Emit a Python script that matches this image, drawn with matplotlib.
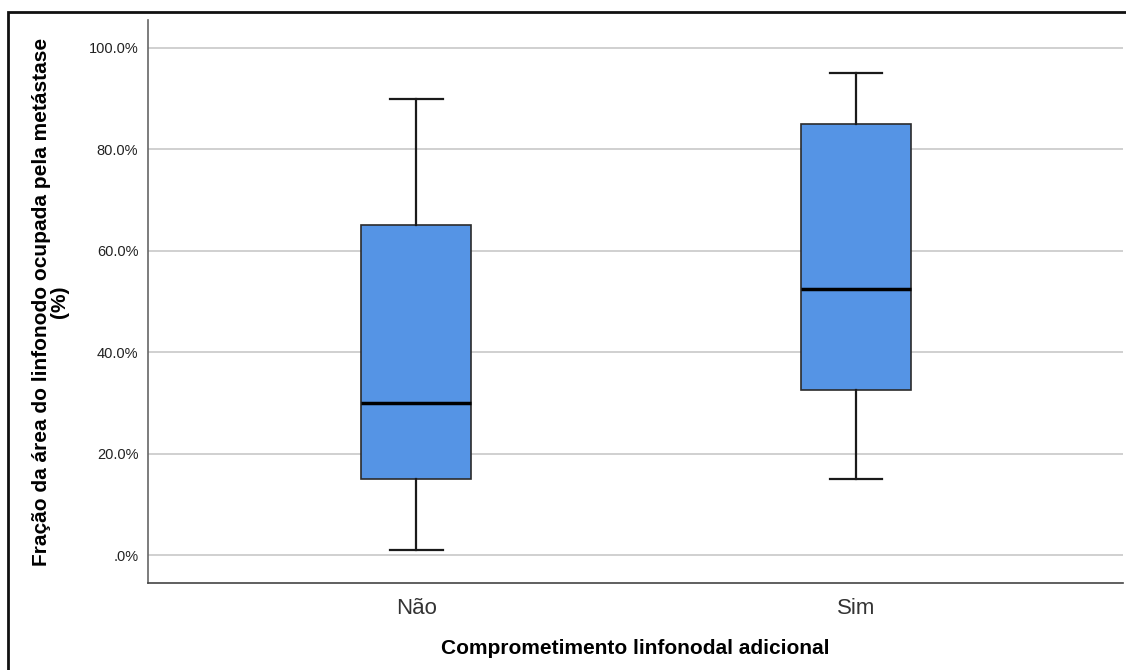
import matplotlib
matplotlib.use('Agg')
import matplotlib.pyplot as plt
from matplotlib.patches import Rectangle

plt.rcParams['font.family'] = ['Liberation Sans', 'DejaVu Sans']

groups = ['Não', 'Sim']
whisker_low = [1.0, 15.0]
q1 = [15.0, 32.5]
median = [30.0, 52.5]
q3 = [65.0, 85.0]
whisker_high = [90.0, 95.0]
yticks = [0, 20, 40, 60, 80, 100]
ytick_labels = ['.0%', '20.0%', '40.0%', '60.0%', '80.0%', '100.0%']

stats = []
for i, name in enumerate(groups):
    stats.append(dict(label=name, whislo=whisker_low[i], q1=q1[i], med=median[i],
                      q3=q3[i], whishi=whisker_high[i], fliers=[]))

fig = plt.figure(figsize=(11.26, 6.70), dpi=100)
ax = fig.add_axes([148 / 1126, 1 - 583 / 670, 975 / 1126, 563 / 670])

ax.bxp(stats, positions=[1, 2], widths=0.25, patch_artist=True, showfliers=False,
       boxprops=dict(facecolor='#5594e5', edgecolor='#2b2b2b', linewidth=1.2),
       medianprops=dict(color='black', linewidth=2.5),
       whiskerprops=dict(color='#1a1a1a', linewidth=1.6),
       capprops=dict(color='#1a1a1a', linewidth=1.6),
       capwidths=0.12, zorder=3)

ax.set_xlim(0.39, 2.607)
ax.set_ylim(-5.5, 105.5)
ax.set_yticks(yticks)
ax.set_yticklabels(ytick_labels, fontsize=10.5, color='#222222')
ax.tick_params(axis='y', length=0, pad=7)
ax.tick_params(axis='x', length=0, pad=11, labelsize=16, labelcolor='#333333')
ax.yaxis.grid(True, color='#c8c8c8', linewidth=1.2, zorder=0)
ax.set_axisbelow(True)

for side in ['top', 'right']:
    ax.spines[side].set_visible(False)
ax.spines['left'].set_color('#666666')
ax.spines['bottom'].set_color('#444444')
ax.spines['left'].set_linewidth(1.2)
ax.spines['bottom'].set_linewidth(1.2)

ax.set_xlabel('Comprometimento linfonodal adicional', fontsize=15, fontweight='bold', labelpad=14)
fig.text(0.045, 1 - 302 / 670, 'Fração da área do linfonodo ocupada pela metástase\n(%)',
         rotation=90, ha='center', va='center', fontsize=15, fontweight='bold',
         multialignment='center', linespacing=0.9)

# outer frame around the chart
fig.patches.append(Rectangle((8 / 1126, -0.1), 1.2, 1.1 - 12 / 670, transform=fig.transFigure,
                             fill=False, edgecolor='#111111', linewidth=2))

fig.savefig('out.png', dpi=100)
